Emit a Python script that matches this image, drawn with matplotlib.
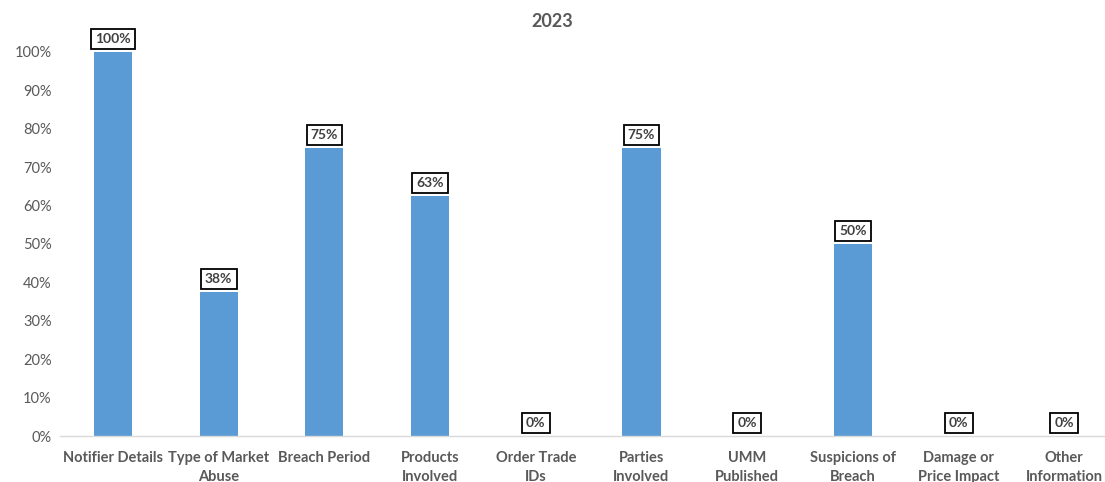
import matplotlib.pyplot as plt
from matplotlib.ticker import PercentFormatter

# -----------------------------
# Data
# -----------------------------
categories = ["Notifier Details", "Type of Market\nAbuse", "Breach Period",
              "Products\nInvolved", "Order Trade\nIDs", "Parties\nInvolved",
              "UMM\nPublished", "Suspicions of\nBreach", "Damage or\nPrice Impact",
              "Other\nInformation"]
values = [1.0, 0.375, 0.75, 0.625, 0.0, 0.75, 0.0, 0.5, 0.0, 0.0]
title = "2023"

plt.rcParams['font.family'] = ['Lato', 'DejaVu Sans']

fig = plt.figure(figsize=(11.05, 4.82), dpi=100)
ax = fig.add_axes([0.0544, 0.0954, 0.9566, 0.797])

x = range(len(categories))
ax.bar(x, values, width=0.36, color="#5B9BD5", zorder=2)

# data labels in boxes
for xi, v in zip(x, values):
    ax.annotate(f"{int(v * 100 + 0.5)}%", (xi, v), xytext=(0, 5),
                textcoords="offset points", ha="center", va="bottom",
                fontsize=10, fontweight="bold", color="#404040",
                bbox=dict(boxstyle="square,pad=0.3", fc="white", ec="black", lw=1.3))

ax.set_xlim(-0.5, len(categories) - 0.5)
ax.set_ylim(0, 1.0)
ax.set_yticks([i / 10 for i in range(11)])
ax.yaxis.set_major_formatter(PercentFormatter(1.0, decimals=0))
ax.set_xticks(list(x))
ax.set_xticklabels(categories, fontsize=10.5, fontweight="bold", color="#595959",
                   linespacing=1.45)
ax.tick_params(axis="y", labelsize=10.5, labelcolor="#595959", length=0, pad=6)
ax.tick_params(axis="x", length=0, pad=11)

for s in ["top", "right", "left"]:
    ax.spines[s].set_visible(False)
ax.spines["bottom"].set_color("#D9D9D9")
ax.spines["bottom"].set_linewidth(1)

fig.text(0.5, 0.955, title, ha="center", va="center", fontsize=13,
         fontweight="bold", color="#595959")

fig.savefig("out.png", dpi=100)
